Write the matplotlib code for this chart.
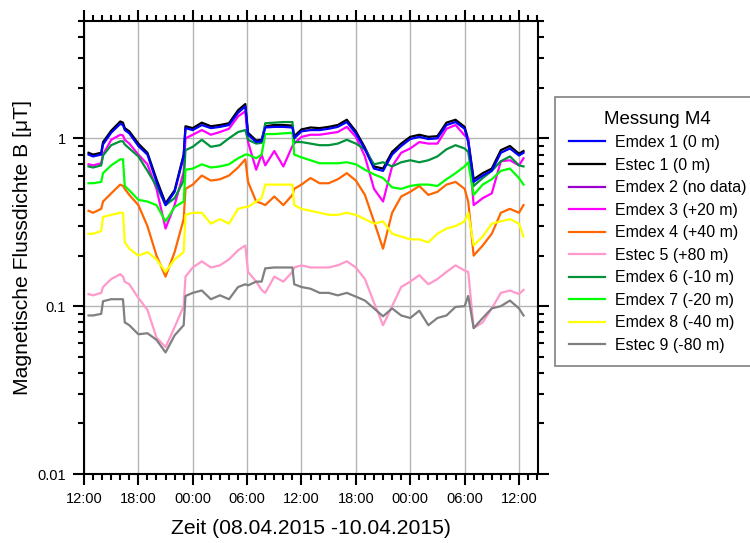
import pandas as pd
import matplotlib
matplotlib.use("Agg")
import matplotlib.pyplot as plt
import matplotlib.dates as mdates
from matplotlib.ticker import LogLocator, FixedLocator, NullFormatter

plt.rcParams["font.family"] = ["Liberation Sans", "DejaVu Sans"]

# ----------------------------
# Data (hours after 08.04.2015 12:00)
# ----------------------------
START = pd.Timestamp("2015-04-08 12:00")
hours = [0.5, 1, 1.9, 2.1, 3, 4, 4.3, 4.5, 5, 6, 7, 8, 9, 10, 11, 11.2, 12,
         13, 14, 15, 16, 17, 17.8, 18.1, 19, 19.6, 20.0, 21, 22, 23, 23.2, 24,
         25, 26, 27, 28, 29, 30, 31, 32, 33, 34, 35, 36,
         37, 38, 39, 40, 41, 42, 42.4, 43, 44, 45, 46, 47, 48, 48.5]

emdex1 = [0.80, 0.78, 0.80, 0.92, 1.08, 1.22, 1.20, 1.12, 1.07, 0.90, 0.80, 0.55, 0.40, 0.48, 0.78, 1.15, 1.12,
          1.20, 1.15, 1.17, 1.20, 1.42, 1.55, 1.05, 0.95, 0.96, 1.16, 1.17, 1.17, 1.16, 1.00, 1.10,
          1.12, 1.12, 1.14, 1.17, 1.25, 1.07, 0.86, 0.66, 0.64, 0.80, 0.90, 0.99,
          1.02, 0.99, 1.00, 1.20, 1.25, 1.14, 0.95, 0.55, 0.60, 0.64, 0.82, 0.87, 0.79, 0.82]
estec1 = [0.82, 0.80, 0.82, 0.95, 1.11, 1.26, 1.24, 1.15, 1.10, 0.93, 0.82, 0.57, 0.41, 0.49, 0.80, 1.18, 1.15,
          1.24, 1.18, 1.20, 1.23, 1.47, 1.60, 1.08, 0.97, 0.98, 1.18, 1.20, 1.20, 1.19, 1.03, 1.13,
          1.16, 1.15, 1.17, 1.20, 1.29, 1.10, 0.88, 0.68, 0.66, 0.83, 0.93, 1.02,
          1.05, 1.02, 1.03, 1.24, 1.29, 1.17, 0.98, 0.57, 0.62, 0.66, 0.85, 0.90, 0.81, 0.84]
emdex3 = [0.70, 0.69, 0.71, 0.80, 0.98, 1.05, 1.04, 0.98, 0.93, 0.80, 0.70, 0.50, 0.29, 0.40, 0.63, 1.00, 1.05,
          1.12, 1.05, 1.09, 1.14, 1.35, 1.45, 0.95, 0.65, 0.80, 0.69, 0.84, 0.68, 0.90, 0.93, 1.02,
          1.05, 1.05, 1.07, 1.09, 1.17, 1.02, 0.78, 0.50, 0.42, 0.68, 0.82, 0.87,
          0.95, 0.93, 0.93, 1.14, 1.20, 1.04, 1.00, 0.40, 0.44, 0.47, 0.73, 0.74, 0.69, 0.76]
emdex4 = [0.37, 0.36, 0.38, 0.42, 0.47, 0.53, 0.52, 0.50, 0.46, 0.40, 0.30, 0.20, 0.15, 0.21, 0.33, 0.50, 0.53,
          0.60, 0.56, 0.57, 0.60, 0.67, 0.75, 0.55, 0.42, 0.41, 0.40, 0.45, 0.40, 0.46, 0.50, 0.53,
          0.58, 0.54, 0.54, 0.57, 0.62, 0.56, 0.46, 0.32, 0.22, 0.36, 0.45, 0.48,
          0.52, 0.46, 0.48, 0.53, 0.55, 0.50, 0.42, 0.20, 0.23, 0.27, 0.36, 0.38, 0.36, 0.40]
estec5 = [0.118, 0.116, 0.120, 0.130, 0.145, 0.155, 0.150, 0.140, 0.135, 0.112, 0.095, 0.065, 0.057, 0.075, 0.100, 0.150, 0.170,
          0.185, 0.170, 0.175, 0.190, 0.215, 0.230, 0.160, 0.140, 0.125, 0.120, 0.150, 0.140, 0.160, 0.170, 0.175,
          0.170, 0.170, 0.170, 0.175, 0.185, 0.170, 0.145, 0.105, 0.077, 0.100, 0.130, 0.140,
          0.153, 0.135, 0.145, 0.160, 0.175, 0.163, 0.160, 0.074, 0.080, 0.097, 0.120, 0.124, 0.118, 0.125]
emdex6 = [0.68, 0.67, 0.69, 0.79, 0.91, 0.96, 0.96, 0.92, 0.87, 0.78, 0.64, 0.52, 0.40, 0.44, 0.56, 0.85, 0.89,
          0.98, 0.89, 0.91, 1.00, 1.09, 1.12, 0.98, 0.93, 0.94, 1.23, 1.24, 1.25, 1.25, 0.95, 0.95,
          0.93, 0.91, 0.91, 0.93, 0.98, 0.93, 0.86, 0.70, 0.72, 0.68, 0.72, 0.74,
          0.72, 0.74, 0.78, 0.86, 0.91, 0.87, 0.83, 0.52, 0.58, 0.64, 0.73, 0.78, 0.69, 0.68]
emdex7 = [0.54, 0.54, 0.55, 0.62, 0.69, 0.75, 0.75, 0.52, 0.49, 0.43, 0.42, 0.40, 0.32, 0.39, 0.42, 0.65, 0.66,
          0.70, 0.67, 0.68, 0.70, 0.76, 0.80, 0.80, 0.76, 0.80, 1.06, 1.06, 1.07, 1.08, 0.80, 0.77,
          0.74, 0.71, 0.71, 0.71, 0.72, 0.70, 0.65, 0.61, 0.58, 0.51, 0.50, 0.52,
          0.53, 0.53, 0.52, 0.57, 0.62, 0.68, 0.72, 0.46, 0.53, 0.57, 0.64, 0.66, 0.58, 0.53]
emdex8 = [0.27, 0.27, 0.28, 0.34, 0.35, 0.36, 0.36, 0.24, 0.22, 0.20, 0.21, 0.19, 0.16, 0.19, 0.21, 0.35, 0.36,
          0.36, 0.31, 0.33, 0.31, 0.38, 0.39, 0.39, 0.42, 0.44, 0.53, 0.53, 0.53, 0.53, 0.40, 0.38,
          0.37, 0.36, 0.35, 0.35, 0.36, 0.35, 0.33, 0.31, 0.32, 0.27, 0.26, 0.25,
          0.25, 0.24, 0.27, 0.29, 0.30, 0.32, 0.36, 0.23, 0.26, 0.31, 0.32, 0.33, 0.31, 0.26]
estec9 = [0.088, 0.088, 0.090, 0.107, 0.110, 0.110, 0.110, 0.080, 0.077, 0.068, 0.069, 0.063, 0.053, 0.067, 0.077, 0.115, 0.120,
          0.124, 0.110, 0.116, 0.110, 0.130, 0.135, 0.133, 0.140, 0.140, 0.168, 0.170, 0.170, 0.170, 0.135, 0.130,
          0.127, 0.120, 0.120, 0.116, 0.120, 0.114, 0.108, 0.097, 0.087, 0.097, 0.088, 0.085,
          0.094, 0.077, 0.085, 0.088, 0.099, 0.100, 0.115, 0.074, 0.085, 0.097, 0.100, 0.108, 0.097, 0.088]

times = START + pd.to_timedelta(hours, unit="h")

# ----------------------------
# Plot
# ----------------------------
fig = plt.figure(figsize=(7.5, 5.43), dpi=100)
ax = fig.add_axes([84 / 750, 69 / 543, 454 / 750, 453 / 543])

lw = 1.6
h_s1, = ax.plot(times, estec1, color="#000000", lw=lw, label="Estec 1 (0 m)", zorder=3)
h_e1, = ax.plot(times, emdex1, color="#0000ff", lw=lw, label="Emdex 1 (0 m)", zorder=4)
h_e2, = ax.plot([], [], color="#9900cc", lw=lw, label="Emdex 2 (no data)")
h_e3, = ax.plot(times, emdex3, color="#ff00ff", lw=lw, label="Emdex 3 (+20 m)", zorder=3)
h_e4, = ax.plot(times, emdex4, color="#ff6600", lw=lw, label="Emdex 4 (+40 m)", zorder=3)
h_s5, = ax.plot(times, estec5, color="#ff99cc", lw=lw, label="Estec 5 (+80 m)", zorder=3)
h_e6, = ax.plot(times, emdex6, color="#00933b", lw=lw, label="Emdex 6 (-10 m)", zorder=3)
h_e7, = ax.plot(times, emdex7, color="#00ff00", lw=lw, label="Emdex 7 (-20 m)", zorder=3)
h_e8, = ax.plot(times, emdex8, color="#ffff00", lw=lw, label="Emdex 8 (-40 m)", zorder=3)
h_s9, = ax.plot(times, estec9, color="#808080", lw=lw, label="Estec 9 (-80 m)", zorder=3)

ax.set_yscale("log")
ax.set_ylim(0.01, 5)
ax.set_xlim(START, START + pd.Timedelta(hours=50.1))

ax.yaxis.set_major_locator(FixedLocator([0.01, 0.1, 1]))
ax.set_yticklabels(["0.01", "0.1", "1"])
ax.yaxis.set_minor_locator(LogLocator(base=10, subs=range(2, 10)))
ax.yaxis.set_minor_formatter(NullFormatter())

ax.xaxis.set_major_locator(mdates.HourLocator(byhour=[0, 6, 12, 18]))
ax.xaxis.set_minor_locator(mdates.HourLocator())
ax.xaxis.set_major_formatter(mdates.DateFormatter("%H:%M"))

ax.grid(True, which="major", color="#b4b4b4", lw=1.0, zorder=0)

for s in ax.spines.values():
    s.set_linewidth(1.5)
ax.tick_params(which="both", direction="out", top=True, right=True, width=1.5)
ax.tick_params(which="major", length=8, labelsize=10.5, pad=5)
ax.tick_params(which="minor", length=4)

ax.set_xlabel("Zeit (08.04.2015 -10.04.2015)", fontsize=15.2, labelpad=9)
ax.set_ylabel("Magnetische Flussdichte B [μT]", fontsize=15.2, labelpad=4)

handles = [h_e1, h_s1, h_e2, h_e3, h_e4, h_s5, h_e6, h_e7, h_e8, h_s9]
leg = fig.legend(handles=handles, title="Messung M4", loc="upper left",
                 bbox_to_anchor=(555 / 750, 1 - 97 / 543), fontsize=11.5,
                 title_fontsize=13.5, fancybox=False, framealpha=1,
                 edgecolor="#808080", labelspacing=0.47, handlelength=2.3,
                 handletextpad=0.6, borderpad=0.85, borderaxespad=0)
leg.get_frame().set_linewidth(1.2)

fig.savefig("out.png", dpi=100)
